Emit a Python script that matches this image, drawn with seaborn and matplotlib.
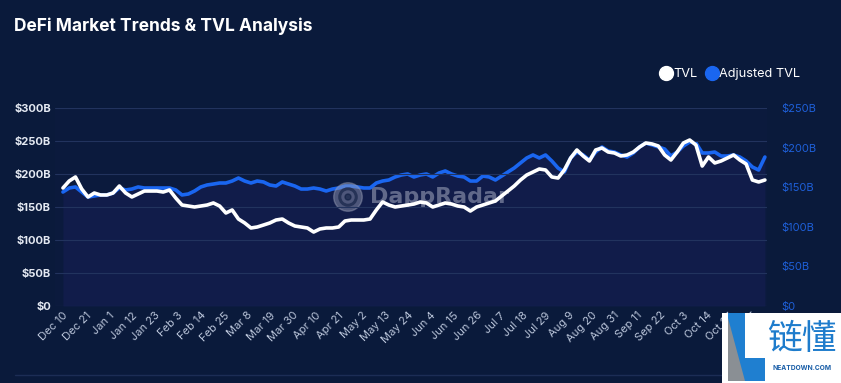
import numpy as np
import pandas as pd
import matplotlib
matplotlib.use("Agg")
import matplotlib.pyplot as plt
from matplotlib.patches import Rectangle, Polygon, Circle
from matplotlib.lines import Line2D
import seaborn as sns

# ---------------- data (values in $B, sampled every 3 days) ----------------
start_date = "2022-12-10"
step_days = 3
tvl = [178.8, 189.4, 195.5, 177.3, 165.2, 171.2, 168.2, 168.2, 171.2, 181.8,
       171.2, 165.2, 169.7, 174.2, 174.2, 174.2, 172.7, 175.8, 163.6, 153.0,
       151.5, 150.0, 151.5, 153.0, 156.1, 151.5, 140.9, 145.5, 131.8, 125.8,
       118.2, 119.7, 122.7, 125.8, 130.3, 131.8, 125.8, 121.2, 119.7, 118.2,
       112.1, 116.7, 118.2, 118.2, 119.7, 128.8, 130.3, 130.3, 130.3, 131.8,
       145.5, 157.6, 153.0, 150.0, 151.5, 153.0, 154.5, 157.6, 156.1, 150.0,
       153.0, 156.1, 154.5, 151.5, 150.0, 143.9, 150.0, 153.0, 156.1, 159.1,
       166.7, 174.2, 181.8, 190.9, 198.5, 203.0, 207.6, 206.1, 195.5, 193.9,
       206.1, 224.2, 236.4, 227.3, 219.7, 236.4, 239.4, 233.3, 231.8, 227.3,
       228.8, 233.3, 240.9, 247.0, 245.5, 242.4, 228.8, 221.2, 233.3, 247.0,
       251.5, 243.9, 212.1, 225.8, 216.7, 219.7, 224.2, 228.8, 221.2, 215.2,
       190.9, 187.9, 190.9]
adjusted_tvl = [143.9, 149.0, 150.3, 143.9, 137.6, 138.9, 140.2, 140.2, 142.7, 149.0,
                146.5, 147.7, 150.3, 149.0, 149.0, 149.0, 149.0, 149.0, 146.5, 140.2,
                141.4, 145.2, 150.3, 152.8, 154.0, 155.3, 155.3, 157.8, 161.6, 157.8,
                155.3, 157.8, 156.6, 152.8, 151.5, 156.6, 154.0, 151.5, 147.7, 147.7,
                149.0, 147.7, 145.2, 147.7, 149.0, 151.5, 151.5, 150.3, 149.0, 149.0,
                155.3, 157.8, 159.1, 162.9, 165.4, 166.7, 162.9, 165.4, 166.7, 162.9,
                167.9, 170.5, 166.7, 164.1, 162.9, 157.8, 157.8, 164.1, 162.9, 159.1,
                164.1, 169.2, 174.2, 180.6, 186.9, 190.7, 186.9, 190.7, 183.1, 174.2,
                169.2, 186.9, 194.4, 190.7, 184.3, 194.4, 200.8, 195.7, 194.4, 190.7,
                188.1, 193.2, 200.8, 205.8, 203.3, 200.8, 198.2, 189.4, 194.4, 202.0,
                207.1, 205.8, 193.2, 193.2, 194.4, 189.4, 189.4, 190.7, 188.1, 183.1,
                175.5, 171.7, 188.1]
left_ticks = [0, 50, 100, 150, 200, 250, 300]
left_labels = ["$0", "$50B", "$100B", "$150B", "$200B", "$250B", "$300B"]
right_ticks = [0, 50, 100, 150, 200, 250]
right_labels = ["$0", "$50B", "$100B", "$150B", "$200B", "$250B"]
tick_step_days = 11
n_xticks = 31
title = "DeFi Market Trends & TVL Analysis"
legend_labels = ["TVL", "Adjusted TVL"]

# ---------------- style ----------------
BG = "#0a1a3b"
PLOT_BG = "#0b1a3d"
BLUE = "#1a66f0"
WHITE = "#ffffff"

sns.set_theme(style="dark")
plt.rcParams["font.family"] = ["Inter", "DejaVu Sans"]

dates = pd.date_range(start_date, periods=len(tvl), freq=f"{step_days}D")
df = pd.DataFrame({"date": dates, "TVL": tvl, "Adjusted TVL": adjusted_tvl})

W, H = 841, 383
fig = plt.figure(figsize=(W / 100, H / 100), dpi=100, facecolor=BG)

ax_l, ax_r_px, ax_t, ax_b = 55, 767, 108, 306
ax = fig.add_axes([ax_l / W, 1 - ax_b / H, (ax_r_px - ax_l) / W, (ax_b - ax_t) / H])
ax2 = ax.twinx()

# watermark (behind the lines)
wm_text = ax2.text(370 / W, 1 - 197 / H, "DappRadar", color="#a4aac0", alpha=0.55,
                   fontsize=16, fontweight="bold", ha="left", va="center", zorder=2,
                   family=["DejaVu Sans"], transform=fig.transFigure)

# fill + lines
ax2.fill_between(df["date"], df["Adjusted TVL"], 0, color="#1b2160", alpha=0.38, lw=0, zorder=1)
sns.lineplot(data=df, x="date", y="Adjusted TVL", ax=ax2, color=BLUE, lw=2.6, zorder=3)
sns.lineplot(data=df, x="date", y="TVL", ax=ax, color=WHITE, lw=2.6, zorder=5)
ax.set_zorder(ax2.get_zorder() + 1)
ax.patch.set_visible(False)
ax2.patch.set_visible(True)
ax2.patch.set_facecolor(PLOT_BG)

ax.set_ylim(0, 300)
ax2.set_ylim(0, 250)
ax.set_xlim(dates[0] - pd.Timedelta(days=3.8), dates[-1] + pd.Timedelta(days=1.0))

ax.set_yticks(left_ticks)
ax.set_yticklabels(left_labels)
ax2.set_yticks(right_ticks)
ax2.set_yticklabels(right_labels)

xticks = pd.date_range(start_date, periods=n_xticks, freq=f"{tick_step_days}D")
ax.set_xticks(xticks)
ax.set_xticklabels([f"{d:%b} {d.day}" for d in xticks], rotation=45, ha="right",
                   rotation_mode="anchor")

ax.grid(True, axis="y", color="#22335e", lw=0.8)
ax.grid(False, axis="x")
ax2.grid(False)
for a in (ax, ax2):
    for s in a.spines.values():
        s.set_visible(False)
    a.set_xlabel("")
    a.set_ylabel("")

ax.tick_params(axis="y", length=0, pad=3, labelsize=8, labelcolor="#e4e9f2")
for t in ax.get_yticklabels():
    t.set_fontweight("bold")
ax2.tick_params(axis="y", length=0, pad=10, labelsize=8, labelcolor="#1e5fd8")
ax.tick_params(axis="x", length=0, pad=3, labelsize=8, labelcolor="#b9c4d9")

# title
fig.text(14 / W, 1 - 26 / H, title, color="white", fontsize=12.5, fontweight="bold",
         ha="left", va="center")

# legend
handles = [Line2D([], [], marker="o", ls="", color=WHITE, markersize=10),
           Line2D([], [], marker="o", ls="", color=BLUE, markersize=10)]
leg = fig.legend(handles, legend_labels, loc="center right", ncol=2, frameon=False,
                 bbox_to_anchor=(812 / W, 1 - 74 / H), fontsize=9.2,
                 handletextpad=0.1, columnspacing=0.6, handlelength=1.0)
for t in leg.get_texts():
    t.set_color("white")

# watermark icon
wm = fig.add_axes([333 / W, 1 - 212 / H, 30 / W, 30 / H])
wm.set_xlim(-1, 1); wm.set_ylim(-1, 1); wm.axis("off"); wm.set_aspect("equal")
wm.add_patch(Circle((0, 0), 0.95, color="#9aa0b8", alpha=0.45))
wm.add_patch(Circle((0, 0), 0.55, fill=False, ec="#0c1b3f", lw=2.2, alpha=0.6))
wm.add_patch(Circle((0, 0), 0.2, color="#0c1b3f", alpha=0.6))
wm.set_zorder(ax.get_zorder() - 0.5)

# bottom separator
fig.add_artist(Line2D([15 / W, 728 / W], [1 - 375 / H, 1 - 375 / H],
                      color="#1c2d55", lw=1, transform=fig.transFigure))

# bottom-right logo box
fig.patches.append(Rectangle((722 / W, 0), (W - 722) / W, (H - 313) / H, transform=fig.transFigure,
                             facecolor="white", edgecolor="none", zorder=10))
fig.patches.append(Polygon([(728 / W, 1 - 313 / H), (745 / W, 1 - 313 / H), (745 / W, 1 - 358 / H),
                            (765 / W, 1 - 358 / H), (765 / W, 1 - 381 / H), (728 / W, 1 - 381 / H)],
                           closed=True, transform=fig.transFigure, facecolor="#1f7fd0",
                           edgecolor="none", zorder=11))
fig.patches.append(Polygon([(728 / W, 1 - 318 / H), (745 / W, 1 - 381 / H), (728 / W, 1 - 381 / H)],
                           closed=True, transform=fig.transFigure, facecolor="#8a8f94",
                           edgecolor="none", zorder=12))
fig.text(802 / W, 1 - 340 / H, "链懂", color="#1e7ccc", fontsize=25, ha="center", va="center",
         family=["Noto Sans CJK SC", "DejaVu Sans"], zorder=13)
fig.text(802 / W, 1 - 368 / H, "NEATDOWN.COM", color="#1b5fa8", fontsize=4.8, fontweight="bold",
         ha="center", va="center", zorder=13)

fig.savefig("out.png", dpi=100, facecolor=BG)
